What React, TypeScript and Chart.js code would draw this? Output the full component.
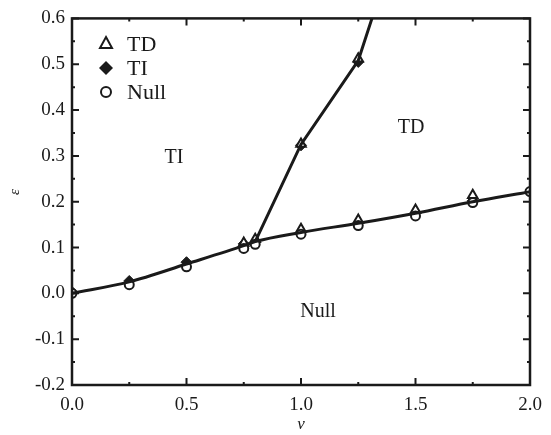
import React, { useEffect, useRef } from "react";
import { Chart, registerables } from "chart.js";

Chart.register(...registerables);

const boundaryLowerX = [0, 0.25, 0.5, 0.75, 0.8, 1.0, 1.25, 1.5, 1.75, 2.0];
const boundaryLowerY = [0.0, 0.025, 0.064, 0.104, 0.113, 0.133, 0.153, 0.175, 0.2, 0.222];
const boundaryUpperX = [0.8, 1.0, 1.25, 1.31];
const boundaryUpperY = [0.113, 0.325, 0.508, 0.6];

const tdX = [0.75, 0.8, 1.0, 1.25, 1.5, 1.75, 1.0, 1.25];
const tdY = [0.11, 0.118, 0.14, 0.16, 0.182, 0.214, 0.326, 0.512];
const tiX = [0, 0.25, 0.5, 0.75, 1.0, 1.25, 1.75];
const tiY = [0.003, 0.027, 0.068, 0.108, 0.323, 0.505, 0.202];
const nullX = [0, 0.25, 0.5, 0.75, 0.8, 1.0, 1.25, 1.5, 1.75, 2.0];
const nullY = [0.0, 0.019, 0.058, 0.098, 0.107, 0.129, 0.148, 0.169, 0.198, 0.222];

const xTicks = [0, 0.5, 1.0, 1.5, 2.0];
const yTicks = [-0.2, -0.1, 0.0, 0.1, 0.2, 0.3, 0.4, 0.5, 0.6];

const regionLabels = ["TI", "TD", "Null"];
const legendLabels = ["TD", "TI", "Null"];

const pts = (xs: number[], ys: number[]) => xs.map((x, i) => ({ x, y: ys[i] }));

const INK = "#1a1a1a";
const SERIF = "'Liberation Serif', 'Times New Roman', serif";

const decorPlugin = {
  id: "decor",
  afterDraw(chart: any) {
    const { ctx, chartArea: a, scales } = chart;
    const xs = scales.x;
    const ys = scales.y;
    ctx.save();
    ctx.strokeStyle = INK;
    ctx.lineWidth = 2.5;
    ctx.strokeRect(a.left, a.top, a.right - a.left, a.bottom - a.top);
    ctx.lineWidth = 2;
    for (let k = 0; k <= 8; k++) {
      const v = k * 0.25;
      const major = k % 2 === 0;
      const len = major ? 7 : 3;
      const px = xs.getPixelForValue(v);
      ctx.beginPath();
      ctx.moveTo(px, a.bottom);
      ctx.lineTo(px, a.bottom - len);
      ctx.moveTo(px, a.top);
      ctx.lineTo(px, a.top + len);
      ctx.stroke();
    }
    for (let k = -4; k <= 12; k++) {
      const v = k * 0.05;
      const major = k % 2 === 0;
      const len = major ? 7 : 3;
      const py = ys.getPixelForValue(v);
      ctx.beginPath();
      ctx.moveTo(a.left, py);
      ctx.lineTo(a.left + len, py);
      ctx.moveTo(a.right, py);
      ctx.lineTo(a.right - len, py);
      ctx.stroke();
    }
    ctx.fillStyle = INK;
    ctx.font = `20px ${SERIF}`;
    ctx.textAlign = "center";
    ctx.textBaseline = "middle";
    ctx.fillText(regionLabels[0], 174, 158);
    ctx.fillText(regionLabels[1], 411, 128);
    ctx.fillText(regionLabels[2], 318, 312);
    ctx.font = `italic 17px ${SERIF}`;
    ctx.fillText("ν", 301, 425);
    ctx.save();
    ctx.translate(15, 192);
    ctx.rotate(-Math.PI / 2);
    ctx.font = `italic 15px ${SERIF}`;
    ctx.fillText("ε", 0, 0);
    ctx.restore();
    const lx = 106;
    const rows = [43, 68, 92];
    ctx.lineWidth = 2;
    ctx.beginPath();
    ctx.moveTo(lx, rows[0] - 6);
    ctx.lineTo(lx + 6, rows[0] + 5);
    ctx.lineTo(lx - 6, rows[0] + 5);
    ctx.closePath();
    ctx.stroke();
    ctx.beginPath();
    ctx.moveTo(lx, rows[1] - 7);
    ctx.lineTo(lx + 7, rows[1]);
    ctx.lineTo(lx, rows[1] + 7);
    ctx.lineTo(lx - 7, rows[1]);
    ctx.closePath();
    ctx.fill();
    ctx.beginPath();
    ctx.arc(lx, rows[2], 5, 0, Math.PI * 2);
    ctx.stroke();
    ctx.font = `22px ${SERIF}`;
    ctx.textAlign = "left";
    ctx.textBaseline = "alphabetic";
    ctx.fillText(legendLabels[0], 127, 51);
    ctx.fillText(legendLabels[1], 127, 75);
    ctx.fillText(legendLabels[2], 127, 99);
    ctx.restore();
  },
};

export default function App() {
  const ref = useRef<HTMLCanvasElement | null>(null);
  useEffect(() => {
    let chart: any = null;
    let cancelled = false;
    const build = () => {
      if (cancelled || !ref.current) return;
      chart = new Chart(ref.current, {
        type: "scatter",
        data: {
          datasets: [
            {
              data: pts(boundaryLowerX, boundaryLowerY),
              showLine: true,
              borderColor: INK,
              borderWidth: 3,
              pointRadius: 0,
              cubicInterpolationMode: "monotone",
            },
            {
              data: pts(boundaryUpperX, boundaryUpperY),
              showLine: true,
              borderColor: INK,
              borderWidth: 3,
              pointRadius: 0,
              tension: 0,
            },
            {
              data: pts(nullX, nullY),
              pointStyle: "circle",
              pointRadius: 4.5,
              borderWidth: 2,
              borderColor: INK,
              backgroundColor: "#ffffff",
            },
            {
              data: pts(tdX, tdY),
              pointStyle: "triangle",
              pointRadius: 5.5,
              borderWidth: 2,
              borderColor: INK,
              backgroundColor: "#ffffff",
            },
            {
              data: pts(tiX, tiY),
              pointStyle: "rectRot",
              pointRadius: 5.5,
              borderWidth: 1,
              borderColor: INK,
              backgroundColor: INK,
            },
          ],
        } as any,
        options: {
          animation: false,
          responsive: false,
          maintainAspectRatio: false,
          layout: { padding: { left: 0, top: 15, right: 21, bottom: 0 } },
          plugins: { legend: { display: false }, tooltip: { enabled: false } },
          scales: {
            x: {
              type: "linear",
              min: 0,
              max: 2,
              afterFit: (s: any) => {
                s.height = 50;
              },
              afterBuildTicks: (s: any) => {
                s.ticks = xTicks.map((v) => ({ value: v }));
              },
              grid: { display: false, drawTicks: false },
              border: { display: false },
              ticks: {
                color: INK,
                padding: 9,
                font: { family: SERIF, size: 19 },
                callback: (v: any) => Number(v).toFixed(1),
              },
            },
            y: {
              type: "linear",
              min: -0.2,
              max: 0.6,
              afterFit: (s: any) => {
                s.width = 72;
              },
              afterBuildTicks: (s: any) => {
                s.ticks = yTicks.map((v) => ({ value: v }));
              },
              grid: { display: false, drawTicks: false },
              border: { display: false },
              ticks: {
                color: INK,
                padding: 7,
                font: { family: SERIF, size: 19 },
                callback: (v: any) => Number(v).toFixed(1),
              },
            },
          },
        },
        plugins: [decorPlugin],
      });
    };
    const fontsApi: any = (document as any).fonts;
    if (fontsApi && fontsApi.load) {
      Promise.all([
        fontsApi.load("19px 'Liberation Serif'"),
        fontsApi.load("italic 17px 'Liberation Serif'"),
      ])
        .catch(() => null)
        .then(build);
    } else {
      build();
    }
    return () => {
      cancelled = true;
      if (chart) chart.destroy();
    };
  }, []);
  return (
    <div style={{ position: "fixed", left: 0, top: 0, width: 551, height: 435, background: "#fff" }}>
      <canvas ref={ref} width={551} height={435} style={{ width: 551, height: 435 }} />
    </div>
  );
}
